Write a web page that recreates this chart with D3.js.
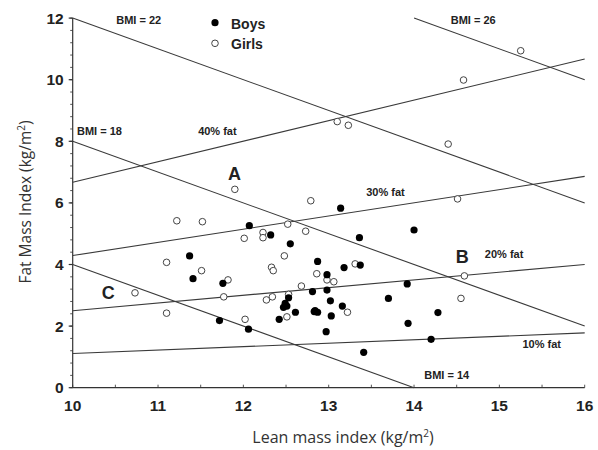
<!DOCTYPE html>
<html>
<head>
<meta charset="utf-8">
<script src="https://cdn.jsdelivr.net/npm/d3@7"></script>
<style>
  body { margin: 0; background: #fff; }
  svg { display: block; }
</style>
</head>
<body>
<svg id="chart" width="598" height="450"></svg>
<script>
// boys (filled) : [lean mass index, fat mass index]
var boys = [
    [13.14, 5.83], [12.07, 5.26], [12.32, 4.96], [12.55, 4.67], [11.37, 4.28],
    [11.41, 3.54], [11.76, 3.39], [12.53, 2.92], [12.49, 2.74], [12.51, 2.65],
    [12.47, 2.61], [12.61, 2.45], [12.42, 2.22], [11.72, 2.18], [12.06, 1.90],
    [12.87, 4.10], [13.18, 3.90], [12.98, 3.67], [14.00, 5.12], [13.36, 4.87],
    [13.37, 3.98], [12.81, 3.12], [12.98, 3.17], [13.02, 2.82], [13.16, 2.65],
    [12.84, 2.50], [12.87, 2.45], [12.83, 2.47], [13.03, 2.33], [12.97, 1.82],
    [13.92, 3.37], [13.70, 2.90], [14.28, 2.44], [13.93, 2.09], [14.20, 1.57],
    [13.41, 1.15]
]

// girls (open)
var girls = [
    [15.25, 10.94], [14.58, 9.99], [13.10, 8.64], [13.23, 8.52], [14.40, 7.91],
    [12.79, 6.07], [14.51, 6.13], [11.90, 6.44], [11.22, 5.42], [11.52, 5.39],
    [12.01, 4.85], [12.23, 5.04], [12.23, 4.87], [12.48, 4.28], [11.10, 4.07],
    [11.51, 3.80], [12.33, 3.91], [12.35, 3.80], [11.82, 3.50], [10.73, 3.08],
    [11.77, 2.95], [12.34, 2.95], [12.27, 2.85], [12.53, 3.03], [12.51, 2.30],
    [11.10, 2.42], [12.02, 2.22], [12.52, 5.31], [12.73, 5.08], [12.86, 3.70],
    [13.31, 4.02], [14.59, 3.63], [12.98, 3.50], [13.06, 3.44], [12.68, 3.30],
    [13.22, 2.45], [14.55, 2.90]
]

// reference lines, segment ends in data units
var bmiLines = [
    { bmi: 14, pts: [[10, 4], [14, 0]] },
    { bmi: 18, pts: [[10, 8], [16, 2]] },
    { bmi: 22, pts: [[10, 12], [16, 6]] },
    { bmi: 26, pts: [[14, 12], [16, 10]] }
]
var fatLines = [
    { pct: 10, pts: [[10, 1.11], [16, 1.78]] },
    { pct: 20, pts: [[10, 2.5], [16, 4.0]] },
    { pct: 30, pts: [[10, 4.29], [16, 6.86]] },
    { pct: 40, pts: [[10, 6.67], [16, 10.67]] }
]

// text annotations at data positions
var notes = [
    { t: "BMI = 22", x: 10.51, y: 11.95, size: 11 },
    { t: "BMI = 26", x: 14.43, y: 11.95, size: 11 },
    { t: "BMI = 18", x: 10.05, y: 8.33, size: 11 },
    { t: "BMI = 14", x: 14.12, y: 0.41, size: 11 },
    { t: "40% fat", x: 11.47, y: 8.33, size: 11 },
    { t: "30% fat", x: 13.44, y: 6.36, size: 11 },
    { t: "20% fat", x: 14.83, y: 4.33, size: 11 },
    { t: "10% fat", x: 15.27, y: 1.41, size: 11 },
    { t: "A", x: 11.82, y: 6.96, size: 18 },
    { t: "B", x: 14.49, y: 4.25, size: 18 },
    { t: "C", x: 10.34, y: 3.08, size: 18 }
]

var xTicks = [10, 11, 12, 13, 14, 15, 16]
var yTicks = [0, 2, 4, 6, 8, 10, 12]

var svg = d3.select("#chart")

var x = d3.scaleLinear().domain([10, 16]).range([72.7, 584.7])
var y = d3.scaleLinear().domain([0, 12]).range([387.7, 18.1])

var lineColor = "#3a3a3a"
var tickFont = "'Liberation Sans', Arial, sans-serif"

// minor ticks
var yMinor = d3.range(0, 12.01, 0.4)
var xMinor = d3.range(10, 16.01, 0.5)

var axisG = svg.append("g")

axisG.selectAll(".ymin").data(yMinor).enter().append("line")
    .attr("x1", x(10) - 2.5).attr("x2", x(10))
    .attr("y1", d => y(d)).attr("y2", d => y(d))
    .attr("stroke", "#555").attr("stroke-width", 1)

axisG.selectAll(".xmin").data(xMinor).enter().append("line")
    .attr("x1", d => x(d)).attr("x2", d => x(d))
    .attr("y1", y(0)).attr("y2", y(0) - 3)
    .attr("stroke", "#555").attr("stroke-width", 1)

axisG.selectAll(".ymaj").data(yTicks).enter().append("line")
    .attr("x1", x(10) - 4).attr("x2", x(10))
    .attr("y1", d => y(d)).attr("y2", d => y(d))
    .attr("stroke", "#333").attr("stroke-width", 1.2)

axisG.append("line")
    .attr("x1", x(10)).attr("x2", x(10))
    .attr("y1", y(0)).attr("y2", y(12))
    .attr("stroke", "#333").attr("stroke-width", 1.2)
axisG.append("line")
    .attr("x1", x(10)).attr("x2", x(16))
    .attr("y1", y(0)).attr("y2", y(0))
    .attr("stroke", "#333").attr("stroke-width", 1.2)

axisG.selectAll(".ylab").data(yTicks).enter().append("text")
    .attr("x", x(10) - 9).attr("y", d => y(d) + 5.5)
    .attr("text-anchor", "end")
    .style("font-family", tickFont).style("font-weight", "bold").style("font-size", "15.5px")
    .attr("fill", "#222")
    .text(d => d)

axisG.selectAll(".xlab").data(xTicks).enter().append("text")
    .attr("x", d => x(d)).attr("y", 411)
    .attr("text-anchor", "middle")
    .style("font-family", tickFont).style("font-weight", "bold").style("font-size", "15.5px")
    .attr("fill", "#222")
    .text(d => d)

// axis titles
var xt = svg.append("text")
    .attr("x", 343).attr("y", 443)
    .attr("text-anchor", "middle")
    .style("font-family", "'Open Sans', sans-serif").style("font-size", "16px")
    .attr("fill", "#333")
xt.append("tspan").text("Lean mass index (kg/m")
xt.append("tspan").attr("dy", -6).style("font-size", "10px").text("2")
xt.append("tspan").attr("dy", 6).text(")")

var yt = svg.append("text")
    .attr("transform", "translate(31,202) rotate(-90)")
    .attr("text-anchor", "middle")
    .style("font-family", "'Open Sans', sans-serif").style("font-size", "15.5px")
    .attr("fill", "#333")
yt.append("tspan").text("Fat Mass Index (kg/m")
yt.append("tspan").attr("dy", -6).style("font-size", "10px").text("2")
yt.append("tspan").attr("dy", 6).text(")")

// reference lines
var line = d3.line().x(d => x(d[0])).y(d => y(d[1]))
svg.append("g").selectAll("path")
    .data(bmiLines.concat(fatLines))
    .enter().append("path")
    .attr("d", d => line(d.pts))
    .attr("fill", "none")
    .attr("stroke", lineColor)
    .attr("stroke-width", 1.1)

// points
svg.append("g").selectAll("circle")
    .data(girls).enter().append("circle")
    .attr("cx", d => x(d[0])).attr("cy", d => y(d[1]))
    .attr("r", 3.3)
    .attr("fill", "#fff").attr("stroke", "#444").attr("stroke-width", 1)

svg.append("g").selectAll("circle")
    .data(boys).enter().append("circle")
    .attr("cx", d => x(d[0])).attr("cy", d => y(d[1]))
    .attr("r", 3.6)
    .attr("fill", "#000")

// annotations
svg.append("g").selectAll("text")
    .data(notes).enter().append("text")
    .attr("x", d => x(d.x)).attr("y", d => y(d.y) + d.size * 0.36)
    .style("font-family", tickFont).style("font-weight", "bold")
    .style("font-size", d => d.size + "px")
    .attr("fill", "#222")
    .text(d => d.t)

// legend
var legend = svg.append("g")
legend.append("circle").attr("cx", 215).attr("cy", 22.7).attr("r", 3.6).attr("fill", "#000")
legend.append("circle").attr("cx", 215).attr("cy", 43.3).attr("r", 3.3)
    .attr("fill", "#fff").attr("stroke", "#444").attr("stroke-width", 1)
legend.append("text").attr("x", 231).attr("y", 28.5).text("Boys")
    .style("font-family", tickFont).style("font-weight", "bold").style("font-size", "14px").attr("fill", "#222")
legend.append("text").attr("x", 231).attr("y", 49).text("Girls")
    .style("font-family", tickFont).style("font-weight", "bold").style("font-size", "14px").attr("fill", "#222")
</script>
</body>
</html>
